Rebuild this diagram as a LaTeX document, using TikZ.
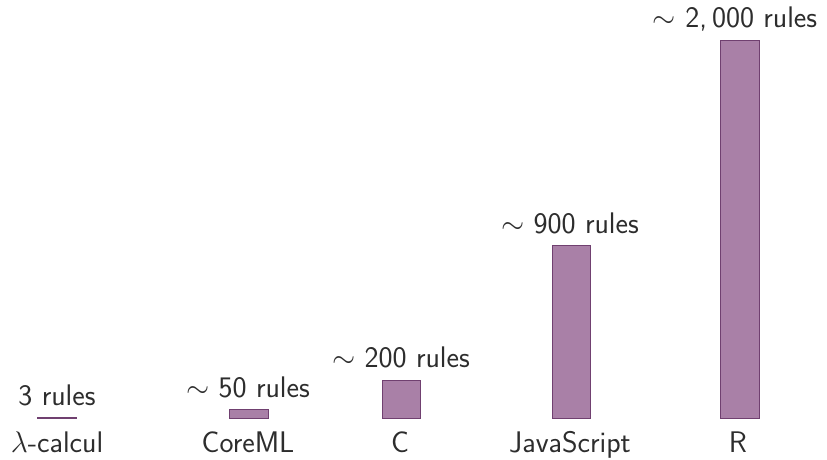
\RequirePackage{fix-cm}
\documentclass[tikz,border=0pt]{standalone}
\usepackage{fontspec}
\definecolor{barfill}{RGB}{169,128,167}
\definecolor{barline}{RGB}{112,64,112}
\definecolor{ink}{RGB}{45,45,45}
\begin{document}
\begin{tikzpicture}[x=1pt,y=1pt,
  bar/.style={fill=barfill,draw=barline,line width=0.9pt},
  txt/.style={text=ink,font=\sffamily\fontsize{29.8}{34}\selectfont,inner sep=0pt,anchor=base},
]
\useasboundingbox (0,0) rectangle (827,459);
% baseline of the bars
\def\base{41}
% bars: left, right, top
\draw[bar] (37,\base) rectangle (76,41.6);
\draw[bar] (229,\base) rectangle (268,50);
\draw[bar] (382,\base) rectangle (420,79);
\draw[bar] (552,\base) rectangle (590,214);
\draw[bar] (720,\base) rectangle (759,419);
% counts above the bars
\node[txt] (n1) at (57,54) {3 rules};
\node[txt] (n2) at (248,62) {$\sim$ 50 rules};
\node[txt] (n3) at (401,92) {$\sim$ 200 rules};
\node[txt] (n4) at (570,226) {$\sim$ 900 rules};
\node[txt] (n5) at (735,431) {$\sim$ 2,\,000 rules};
% language names
\node[txt] (l1) at (57,7) {$\lambda$-calcul};
\node[txt] (l2) at (248,7) {CoreML};
\node[txt] (l3) at (400,7) {C};
\node[txt] (l4) at (570,7) {JavaScript};
\node[txt] (l5) at (738,7) {R};
\end{tikzpicture}
\end{document}
